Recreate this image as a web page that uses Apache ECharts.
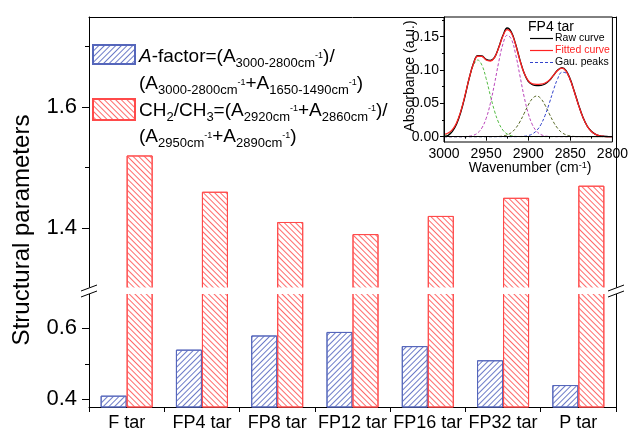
<!DOCTYPE html>
<html><head><meta charset="utf-8">
<script src="https://cdn.jsdelivr.net/npm/echarts@6/dist/echarts.min.js"></script>
<style>html,body{margin:0;padding:0;background:#fff}#c{width:631px;height:432px}</style>
</head><body><div id="c"></div>
<script>
// ---------------- data ----------------
const categories = ['F tar', 'FP4 tar', 'FP8 tar', 'FP12 tar', 'FP16 tar', 'FP32 tar', 'P tar'];
const aFactor = [0.41, 0.54, 0.58, 0.59, 0.55, 0.51, 0.44];
const ch2ch3 = [1.52, 1.46, 1.41, 1.39, 1.42, 1.45, 1.47];
const upperMajorTicks = [1.4, 1.6];
const upperMinorTicks = [1.5, 1.7];
const lowerMajorTicks = [0.4, 0.6];
const lowerMinorTicks = [0.5];

const wavenumber = [3000,2995,2990,2985,2980,2975,2970,2965,2960,2955,2950,2945,2940,2935,2930,2925,2920,2915,2910,2905,2900,2895,2890,2885,2880,2875,2870,2865,2860,2855,2850,2845,2840,2835,2830,2825,2820,2815,2810,2805,2800];
const rawCurve = [0.000,0.002,0.008,0.019,0.037,0.061,0.088,0.110,0.1215,0.121,0.116,0.1145,0.119,0.134,0.152,0.163,0.157,0.139,0.116,0.096,0.083,0.078,0.0765,0.077,0.079,0.084,0.092,0.100,0.1035,0.099,0.086,0.067,0.047,0.029,0.016,0.008,0.0035,0.0013,0.0005,0.0002,0.000];
const fittedCurve = [0.0035,0.0055,0.0105,0.0210,0.0384,0.0622,0.0881,0.1095,0.1206,0.1205,0.1150,0.1135,0.1185,0.1335,0.1510,0.1605,0.1555,0.1380,0.1150,0.0957,0.0840,0.0791,0.0785,0.0788,0.0805,0.0846,0.0920,0.0994,0.1027,0.0982,0.0851,0.0662,0.0462,0.0287,0.0159,0.0078,0.0034,0.0013,0.0005,0.0001,0.0000];
const gauPeak1 = [0.0014,0.0040,0.0097,0.0207,0.0384,0.0620,0.0874,0.1074,0.1150,0.1074,0.0874,0.0620,0.0384,0.0207,0.0097,0.0040,0.0014,0.0004,0.0001,0,0,0,0,0,0,0,0,0,0,0,0,0,0,0,0,0,0,0,0,0,0];
const gauPeak2 = [0,0,0,0,0,0.0002,0.0007,0.0021,0.0056,0.0131,0.0272,0.0495,0.0794,0.1120,0.1391,0.1521,0.1464,0.1240,0.0925,0.0607,0.0351,0.0178,0.0080,0.0032,0.0011,0.0003,0.0001,0,0,0,0,0,0,0,0,0,0,0,0,0,0];
const gauPeak3 = [0,0,0,0,0,0,0,0,0,0,0,0,0.0001,0.0003,0.0010,0.0027,0.0061,0.0124,0.0220,0.0344,0.0473,0.0572,0.0610,0.0572,0.0473,0.0344,0.0220,0.0124,0.0061,0.0027,0.0010,0.0003,0.0001,0,0,0,0,0,0,0,0];
const gauPeak4 = [0,0,0,0,0,0,0,0,0,0,0,0,0,0,0,0,0,0,0.0002,0.0006,0.0016,0.0041,0.0091,0.0180,0.0318,0.0499,0.0699,0.0870,0.0966,0.0955,0.0841,0.0659,0.0461,0.0287,0.0159,0.0078,0.0034,0.0013,0.0005,0.0001,0];
const insetYTicks = [0, 0.05, 0.10, 0.15];
const insetYMinorTicks = [0.025, 0.075, 0.125, 0.175];

// ---------------- styles ----------------
const FONT = 'Arial, "Liberation Sans", Helvetica, sans-serif';
const BLUE = '#5566bb', BLUE_H = '#6c7bc8';
const RED = '#ff4a4a', RED_H = '#ff6a6a';

const blueStyle = {
  color: '#fff', borderColor: BLUE, borderWidth: 1,
  decal: { symbol: 'rect', symbolSize: 1, color: BLUE_H, dashArrayX: [1, 0], dashArrayY: [1, 2.4], rotation: -Math.PI / 4 }
};
const redStyle = {
  color: '#fff', borderColor: RED, borderWidth: 1,
  decal: { symbol: 'rect', symbolSize: 1, color: RED_H, dashArrayX: [1, 0], dashArrayY: [1, 2.4], rotation: Math.PI / 4 }
};

const rich = {
  n: { fontSize: 19, lineHeight: 26, color: '#000', fontFamily: FONT },
  i: { fontSize: 19, lineHeight: 26, color: '#000', fontFamily: FONT, fontStyle: 'italic' },
  sub: { fontSize: 13, lineHeight: 18, color: '#000', fontFamily: FONT, verticalAlign: 'bottom' },
  sup: { fontSize: 9, color: '#000', fontFamily: FONT, verticalAlign: 'middle', padding: [0, 0, 3, 0] }
};
const legendLine1 = '{i|A}{n|-factor=(A}{sub|3000-2800cm}{sup|-1}{n|)/}';
const legendLine2 = '{n|(A}{sub|3000-2800cm}{sup|-1}{n|+A}{sub|1650-1490cm}{sup|-1}{n|)}';
const legendLine3 = '{n|CH}{sub|2}{n|/CH}{sub|3}{n|=(A}{sub|2920cm}{sup|-1}{n|+A}{sub|2860cm}{sup|-1}{n|)/}';
const legendLine4 = '{n|(A}{sub|2950cm}{sup|-1}{n|+A}{sub|2890cm}{sup|-1}{n|)}';

const axisLineBlack = { show: true, lineStyle: { color: '#000', width: 1 } };

function pairs(arr) { return wavenumber.map((w, i) => [w, arr[i]]); }
function curve(name, arr, color, width, dashed) {
  return {
    name: name, type: 'line', xAxisIndex: 2, yAxisIndex: 6, data: pairs(arr), z: 20,
    smooth: 0.4, showSymbol: false, silent: true,
    lineStyle: { color: color, width: width, type: dashed ? [3, 2] : 'solid' }
  };
}
function legendText(line, y) {
  return { type: 'text', z: 100, x: 139, y: y, style: { text: line, rich: rich, align: 'left', verticalAlign: 'middle' } };
}

const chart = echarts.init(document.getElementById('c'), null, { renderer: 'canvas' });
const option = {
  animation: false,
  backgroundColor: '#fff',
  grid: [
    { left: 89, right: 15, top: 17, bottom: 143.5 },
    { left: 89, right: 15, top: 293, bottom: 23 },
    { left: 444, right: 15, top: 17, bottom: 290, show: true, backgroundColor: '#fff', borderColor: '#000', borderWidth: 1, z: 5 }
  ],
  xAxis: [
    { gridIndex: 0, type: 'category', data: categories, position: 'top', axisLine: axisLineBlack, axisTick: { show: false }, axisLabel: { show: false } },
    { gridIndex: 1, type: 'category', data: categories, position: 'bottom', axisLine: axisLineBlack,
      axisTick: { show: true, length: 5, lineStyle: { color: '#000' } },
      axisLabel: { color: '#000', fontSize: 18, fontFamily: FONT, margin: 7, interval: 0 } },
    { gridIndex: 2, type: 'value', min: 2800, max: 3000, interval: 50, inverse: true, z: 21,
      axisLine: axisLineBlack, axisTick: { show: true, length: 4, lineStyle: { color: '#000' } },
      minorTick: { show: true, splitNumber: 2, length: 2, lineStyle: { color: '#000' } },
      splitLine: { show: false },
      axisLabel: { color: '#000', fontSize: 14, fontFamily: FONT, margin: 5, showMinLabel: true, showMaxLabel: true, formatter: v => String(v) } }
  ],
  yAxis: [
    { gridIndex: 0, type: 'value', min: 1.30, max: 1.749, position: 'left', axisLine: axisLineBlack,
      axisTick: { show: true, customValues: upperMajorTicks, length: 7, lineStyle: { color: '#000' } },
      axisLabel: { customValues: upperMajorTicks, formatter: v => v.toFixed(1), color: '#000', fontSize: 22, fontFamily: FONT, margin: 12 },
      splitLine: { show: false } },
    { gridIndex: 0, type: 'value', min: 1.30, max: 1.749, position: 'left', axisLine: { show: false },
      axisTick: { show: true, customValues: upperMinorTicks, length: 4, lineStyle: { color: '#000' } },
      axisLabel: { show: false }, splitLine: { show: false } },
    { gridIndex: 0, type: 'value', min: 1.30, max: 1.749, position: 'right', axisLine: axisLineBlack,
      axisTick: { show: false }, axisLabel: { show: false }, splitLine: { show: false } },
    { gridIndex: 1, type: 'value', min: 0.378, max: 0.70, position: 'left', axisLine: axisLineBlack,
      axisTick: { show: true, customValues: lowerMajorTicks, length: 7, lineStyle: { color: '#000' } },
      axisLabel: { customValues: lowerMajorTicks, formatter: v => v.toFixed(1), color: '#000', fontSize: 22, fontFamily: FONT, margin: 12 },
      splitLine: { show: false } },
    { gridIndex: 1, type: 'value', min: 0.378, max: 0.70, position: 'left', axisLine: { show: false },
      axisTick: { show: true, customValues: lowerMinorTicks, length: 4, lineStyle: { color: '#000' } },
      axisLabel: { show: false }, splitLine: { show: false } },
    { gridIndex: 1, type: 'value', min: 0.378, max: 0.70, position: 'right', axisLine: axisLineBlack,
      axisTick: { show: false }, axisLabel: { show: false }, splitLine: { show: false } },
    { gridIndex: 2, type: 'value', min: -0.008, max: 0.1795, position: 'left', z: 21, axisLine: axisLineBlack,
      axisTick: { show: true, customValues: insetYTicks, length: 4, lineStyle: { color: '#000' } },
      axisLabel: { customValues: insetYTicks, formatter: v => v.toFixed(2), color: '#000', fontSize: 14, fontFamily: FONT, margin: 5 },
      splitLine: { show: false } },
    { gridIndex: 2, type: 'value', min: -0.008, max: 0.1795, position: 'left', z: 21, axisLine: { show: false },
      axisTick: { show: true, customValues: insetYMinorTicks, length: 2, lineStyle: { color: '#000' } },
      axisLabel: { show: false }, splitLine: { show: false } }
  ],
  legend: [
    { data: ['A-factor'], left: 92, top: 44, padding: 0, icon: 'rect', itemWidth: 42, itemHeight: 19,
      selectedMode: false, formatter: () => ' ', textStyle: { fontSize: 10 } },
    { data: ['CH2/CH3'], left: 92, top: 98, padding: 0, icon: 'rect', itemWidth: 42, itemHeight: 21,
      selectedMode: false, formatter: () => ' ', textStyle: { fontSize: 10 } }
  ],
  series: [
    { name: 'A-factor', type: 'bar', xAxisIndex: 1, yAxisIndex: 3, data: aFactor, barWidth: 26, barGap: '0%', itemStyle: blueStyle, silent: true },
    { name: 'CH2/CH3', type: 'bar', xAxisIndex: 1, yAxisIndex: 3, data: ch2ch3, barWidth: 26, barGap: '0%', itemStyle: redStyle, silent: true },
    { name: 'A-factor', type: 'bar', xAxisIndex: 0, yAxisIndex: 0, data: aFactor.map(() => '-'), barWidth: 26, barGap: '0%', itemStyle: blueStyle, silent: true },
    { name: 'CH2/CH3', type: 'bar', xAxisIndex: 0, yAxisIndex: 0, data: ch2ch3, barWidth: 26, barGap: '0%', itemStyle: redStyle, silent: true },
    curve('g1', gauPeak1, '#55bb44', 1, true),
    curve('g2', gauPeak2, '#bb44bb', 1, true),
    curve('g3', gauPeak3, '#556622', 1, true),
    curve('g4', gauPeak4, '#3344cc', 1, true),
    curve('Raw curve', rawCurve, '#000', 1.3, false),
    curve('Fitted curve', fittedCurve, '#ff2222', 1.3, false)
  ],
  graphic: [
    // axis break gap
    { type: 'rect', z: 100, shape: { x: 78, y: 287.5, width: 552, height: 6.5 }, style: { fill: '#fff' } },
    { type: 'line', z: 101, shape: { x1: 81, y1: 291, x2: 97, y2: 285 }, style: { stroke: '#000', lineWidth: 1 } },
    { type: 'line', z: 101, shape: { x1: 81, y1: 297, x2: 97, y2: 291 }, style: { stroke: '#000', lineWidth: 1 } },
    { type: 'line', z: 101, shape: { x1: 608, y1: 291, x2: 624, y2: 285 }, style: { stroke: '#000', lineWidth: 1 } },
    { type: 'line', z: 101, shape: { x1: 608, y1: 297, x2: 624, y2: 291 }, style: { stroke: '#000', lineWidth: 1 } },
    // main y title
    { type: 'text', z: 100, x: 22, y: 230, rotation: Math.PI / 2,
      style: { text: 'Structural parameters', fill: '#000', font: '24px ' + FONT, align: 'center', verticalAlign: 'middle' } },
    // legend text lines
    legendText(legendLine1, 57),
    legendText(legendLine2, 84),
    legendText(legendLine3, 110.5),
    legendText(legendLine4, 137),
    // inset texts
    { type: 'text', z: 100, x: 528, y: 27, style: { text: 'FP4 tar', fill: '#000', font: '14px ' + FONT, align: 'left', verticalAlign: 'middle' } },
    { type: 'line', z: 100, shape: { x1: 530, y1: 38.5, x2: 553, y2: 38.5 }, style: { stroke: '#000', lineWidth: 1.2 } },
    { type: 'line', z: 100, shape: { x1: 530, y1: 50.5, x2: 553, y2: 50.5 }, style: { stroke: '#ff2222', lineWidth: 1.2 } },
    { type: 'line', z: 100, shape: { x1: 530, y1: 62.5, x2: 553, y2: 62.5 }, style: { stroke: '#3344cc', lineWidth: 1, lineDash: [3, 2] } },
    { type: 'text', z: 100, x: 555, y: 38.5, style: { text: 'Raw curve', fill: '#000', font: '10.5px ' + FONT, align: 'left', verticalAlign: 'middle' } },
    { type: 'text', z: 100, x: 555, y: 50.5, style: { text: 'Fitted curve', fill: '#ff2222', font: '10.5px ' + FONT, align: 'left', verticalAlign: 'middle' } },
    { type: 'text', z: 100, x: 555, y: 62.5, style: { text: 'Gau. peaks', fill: '#000', font: '10.5px ' + FONT, align: 'left', verticalAlign: 'middle' } },
    { type: 'text', z: 100, x: 530, y: 168, style: { text: '{n|Wavenumber (cm}{s|-1}{n|)}', align: 'center', verticalAlign: 'middle',
      rich: { n: { fontSize: 14, lineHeight: 18, fontFamily: FONT, color: '#000' }, s: { fontSize: 9, verticalAlign: 'middle', padding: [0, 0, 5, 0], fontFamily: FONT, color: '#000' } } } },
    { type: 'text', z: 100, x: 410, y: 76, rotation: Math.PI / 2,
      style: { text: 'Absorbance (a.u.)', fill: '#000', font: '14px ' + FONT, align: 'center', verticalAlign: 'middle' } }
  ]
};
chart.setOption(option);
</script></body></html>
